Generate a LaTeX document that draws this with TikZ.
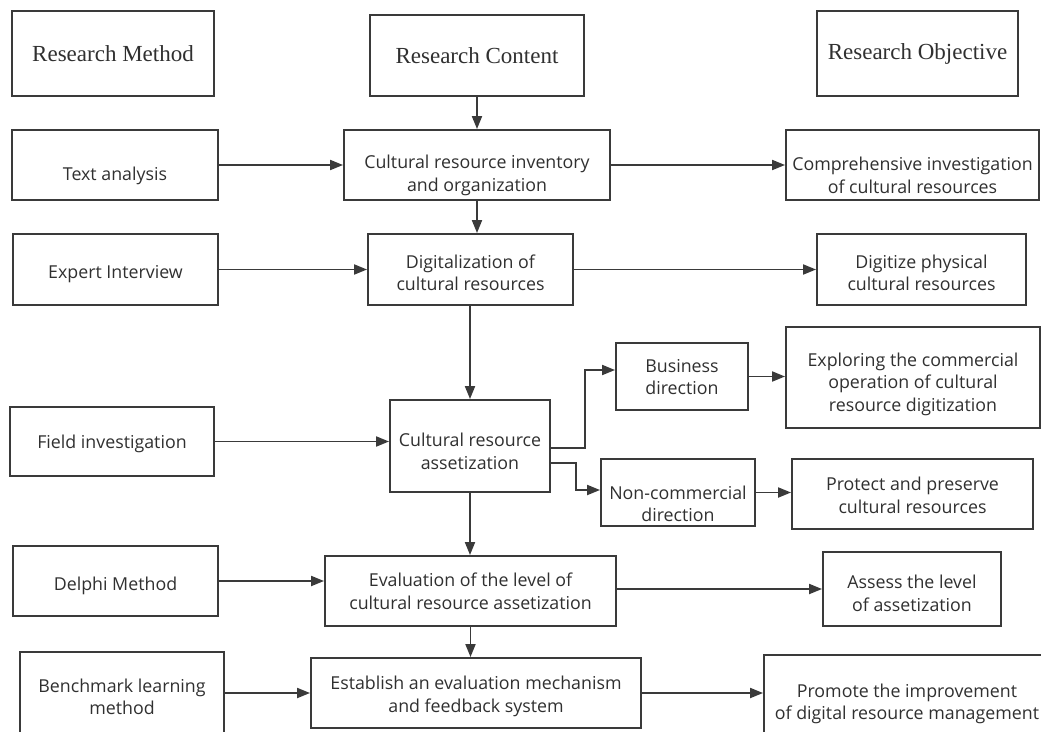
\documentclass[tikz,border=0pt]{standalone}
\usepackage{fontspec}
\setmainfont{Open Sans}
\newfontfamily\hdrfont{Liberation Serif}
\usetikzlibrary{arrows.meta}
\definecolor{ln}{HTML}{3A3A3A}
\definecolor{tx}{HTML}{303030}
\tikzset{
  box/.style={draw=ln, line width=1.9pt, rectangle, inner sep=0pt},
  txt/.style={text=tx, align=center, inner sep=0pt, yshift=-2.5pt, font=\fontsize{17.8}{22.5}\selectfont},
  hdr/.style={text=tx, align=center, inner sep=0pt, font=\hdrfont\fontsize{23}{26}\selectfont},
  arr/.style={draw=ln, line width=1.9pt, -{Triangle[length=13pt,width=10pt]}},
}
\newcommand\mybox[8][txt]{%
  \node[box, minimum width={#5-#3}, minimum height={#6-#4}] (#2) at ({(#3+#5)/2},{(#4+#6)/2}) {};
  \node[#1] (#2-t) at ([yshift=-#7pt]#2.center) {#8};}
\begin{document}
\begin{tikzpicture}[x=1pt,y=-1pt]
\clip (0,0) rectangle (1041,731);
\fill[white] (0,0) rectangle (1041,731);
% headers
\mybox[hdr]{hm}{12}{11}{214}{96}{0}{Research Method}
\mybox[hdr]{hc}{370}{15}{584}{96}{0}{Research Content}
\mybox[hdr]{ho}{817}{11}{1018}{96}{0}{Research Objective}
% row 1
\mybox{ta}{12}{130}{218}{200}{8}{Text analysis}
\mybox{c1}{344}{130}{610}{200}{8}{Cultural resource inventory\\and organization}
\mybox{o1}{786}{130}{1039}{200}{8}{Comprehensive investigation\\of cultural resources}
% row 2
\mybox{ei}{13}{234}{218}{305}{2}{Expert Interview}
\mybox{c2}{368}{234}{573}{305}{1}{Digitalization of\\cultural resources}
\mybox{o2}{817}{234}{1026}{305}{1}{Digitize physical\\cultural resources}
% row 3
\mybox{fi}{10}{407}{214}{476}{0}{Field investigation}
\mybox{c3}{390}{400}{550}{492}{3}{Cultural resource\\assetization}
\mybox{bd}{616}{343}{748}{410}{-2}{Business\\direction}
\mybox{o3a}{786}{327}{1040}{428}{4}{Exploring the commercial\\operation of cultural\\resource digitization}
\mybox{nd}{601}{459}{755}{526}{9}{Non-commercial\\direction}
\mybox{o3b}{792}{459}{1033}{529}{-1}{Protect and preserve\\cultural resources}
% row 4
\mybox{dm}{13}{546}{218}{616}{2}{Delphi Method}
\mybox{c4}{325}{556}{616}{626}{-2}{Evaluation of the level of\\cultural resource assetization}
\mybox{o4}{823}{552}{1001}{626}{2}{Assess the level\\of assetization}
% row 5
\mybox{bl}{20}{652}{224}{737}{0}{Benchmark learning\\method}
\mybox{c5}{311}{658}{641}{728}{1}{Establish an evaluation mechanism\\and feedback system}
\mybox{o5}{764}{655}{1050}{748}{0}{Promote the improvement\\of digital resource management}
% vertical chain
\draw[arr] (hc.south) -- (hc.south |- c1.north);
\draw[arr] (c1.south) -- (c1.south |- c2.north);
\draw[arr] (c2.south -| c3.north) -- (c3.north);
\draw[arr] (c3.south) -- (c3.south |- c4.north);
\draw[arr] (c4.south) -- (c4.south |- c5.north);
% methods -> content
\draw[arr] (ta.east) -- (c1.west);
\draw[arr] (ei.east) -- (c2.west);
\draw[arr] (fi.east) -- (fi.east -| c3.west);
\draw[arr] (dm.east) -- (dm.east -| c4.west);
\draw[arr] (bl.east |- c5.west) -- (c5.west);
% content -> objectives
\draw[arr] (c1.east) -- (o1.west);
\draw[arr] (c2.east) -- (c2.east -| o2.west);
\draw[arr] (c4.east |- o4.west) -- (o4.west);
\draw[arr] (c5.east) -- (c5.east -| o5.west);
% branches
\draw[arr] ([yshift=-2pt]c3.east) -- ++(34,0) |- ([yshift=6.5pt]bd.west);
\draw[arr] ([yshift=-17pt]c3.east) -- ++(25,0) |- ([yshift=2.5pt]nd.west);
\draw[arr] (bd.east) -- (bd.east -| o3a.west);
\draw[arr] (nd.east) -- (nd.east -| o3b.west);
\end{tikzpicture}
\end{document}
